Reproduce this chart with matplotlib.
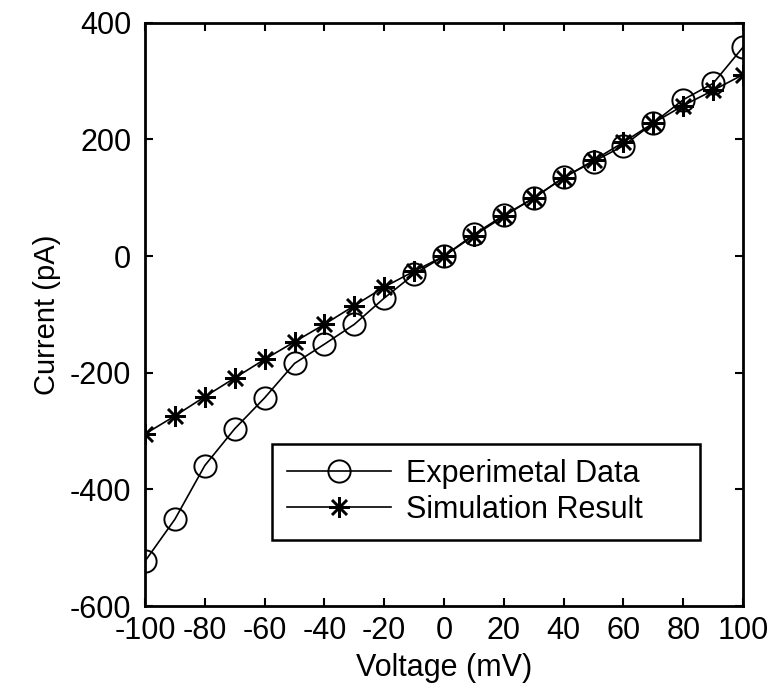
import numpy as np
import matplotlib
matplotlib.use('Agg')
import matplotlib.pyplot as plt

plt.rcParams['font.family'] = ['Liberation Sans', 'DejaVu Sans']
plt.rcParams['axes.unicode_minus'] = False

# Data
voltage = [-100, -90, -80, -70, -60, -50, -40, -30, -20, -10, 0,
           10, 20, 30, 40, 50, 60, 70, 80, 90, 100]
i_exp = [-523, -451, -359, -296, -243, -184, -151, -117, -72, -31, 0,
         37, 70, 99, 135, 162, 189, 228, 268, 296, 358]
i_sim = [-305, -274, -241, -209, -177, -147, -117, -85, -53, -26, 0,
         35, 68, 100, 134, 164, 195, 228, 258, 284, 311]

xticks = [-100, -80, -60, -40, -20, 0, 20, 40, 60, 80, 100]
yticks = [-600, -400, -200, 0, 200, 400]

fig = plt.figure(figsize=(7.69, 6.88), dpi=100)
ax = fig.add_axes([0.1886, 0.119, 0.7776, 0.848])

ax.plot(voltage, i_exp, 'k-', lw=1.2, marker='o', ms=16, mfc='none',
        mec='k', mew=1.4, label='Experimetal Data')
ax.plot(voltage, i_sim, 'k-', lw=1.2, marker=(8, 2, 0), ms=15,
        mec='k', mew=1.8, label='Simulation Result')

ax.set_xlim(-100, 100)
ax.set_ylim(-600, 400)
ax.set_xticks(xticks)
ax.set_yticks(yticks)
ax.tick_params(direction='in', length=6, width=1.5, top=True, right=True,
               labelsize=22, colors='k')
ax.tick_params(axis='x', pad=7)
ax.tick_params(axis='y', pad=10)
for s in ax.spines.values():
    s.set_linewidth(2)

ax.set_xlabel('Voltage (mV)', fontsize=22, labelpad=5)
ax.set_ylabel('Current (pA)', fontsize=21, labelpad=6)

leg = ax.legend(loc='lower left', bbox_to_anchor=(0.212, 0.113, 0.716, 0.166),
                mode='expand', borderaxespad=0, fontsize=22, handlelength=3.4,
                handletextpad=0.5, borderpad=0.5, labelspacing=0.2,
                fancybox=False, framealpha=1, edgecolor='k')
leg.get_frame().set_linewidth(1.8)

fig.savefig('out.png', dpi=100)
